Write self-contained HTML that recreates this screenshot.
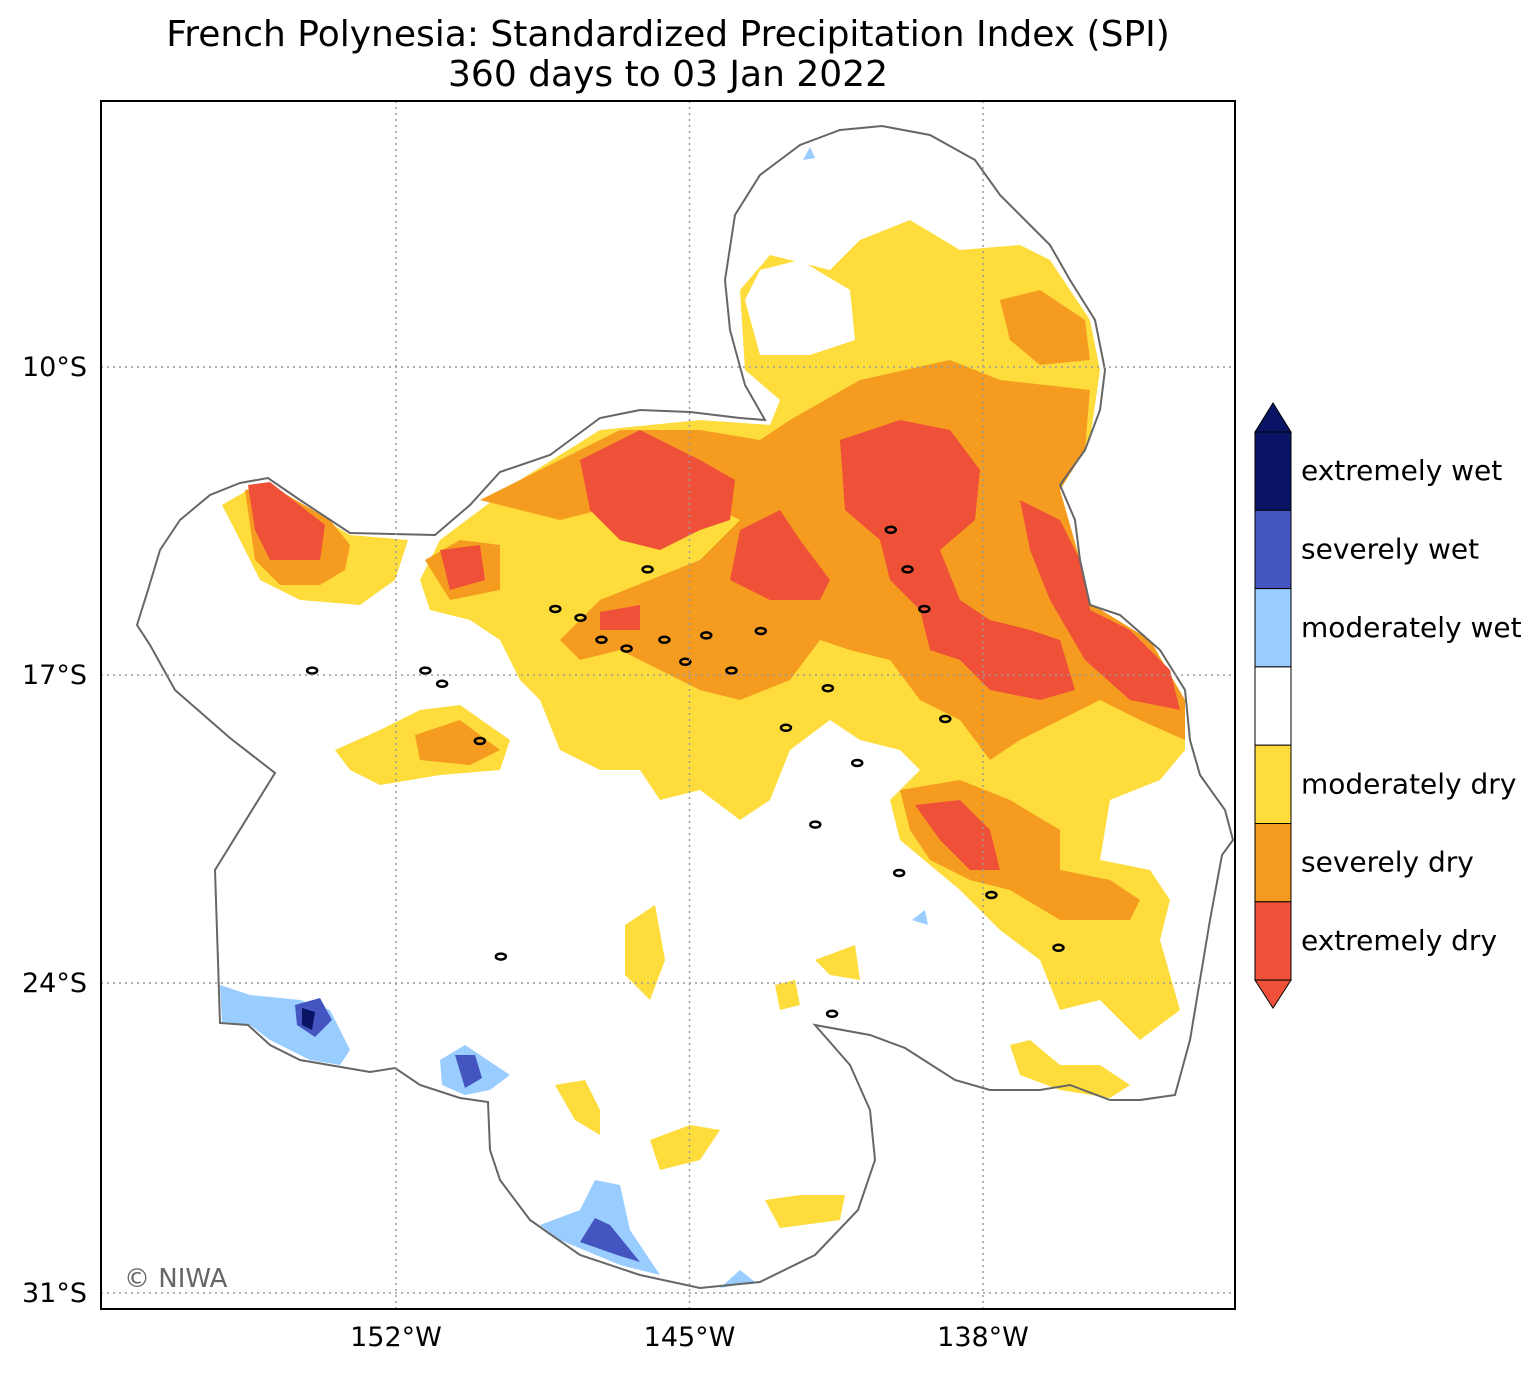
<!DOCTYPE html>
<html><head><meta charset="utf-8"><style>
body{margin:0;background:#fff;font-family:"Liberation Sans","DejaVu Sans",sans-serif;}
svg text{font-family:"DejaVu Sans","Liberation Sans",sans-serif;}
</style></head><body>
<svg id="chart" width="1540" height="1372" viewBox="0 0 1540 1372">
<text x="668" y="46" font-size="36" text-anchor="middle">French Polynesia: Standardized Precipitation Index (SPI)</text>
<text x="668" y="86" font-size="36" text-anchor="middle">360 days to 03 Jan 2022</text>
<defs><clipPath id="frame"><rect x="101" y="101" width="1134" height="1208"/></clipPath></defs>
<g clip-path="url(#frame)">
<g>
<polygon fill="#fddc3c" points="420,580 440,540 520,480 600,430 700,420 770,425 780,400 745,370 740,290 770,255 830,270 860,240 910,220 960,250 1020,245 1050,260 1090,320 1100,370 1090,440 1060,490 1080,560 1090,610 1150,640 1185,700 1185,750 1160,780 1110,800 1100,860 1150,870 1170,900 1160,940 1180,1010 1140,1040 1100,1000 1060,1010 1040,960 1000,930 960,890 900,840 890,800 920,770 900,750 860,740 830,720 790,750 770,800 740,820 700,790 660,800 640,770 600,770 560,750 540,700 520,680 500,640 470,620 430,610"/>
<polygon fill="#fff" points="745,300 760,270 800,260 850,290 855,340 810,355 760,355"/>
<polygon fill="#fddc3c" points="222,505 260,483 300,505 350,535 408,540 395,580 360,605 300,600 260,580 240,540"/>
<polygon fill="#fddc3c" points="335,750 380,730 420,710 460,705 510,740 500,770 440,775 380,785 350,770"/>
<polygon fill="#fddc3c" points="625,925 655,905 665,960 650,1000 625,975"/>
<polygon fill="#fddc3c" points="555,1085 585,1080 600,1110 600,1135 575,1120"/>
<polygon fill="#fddc3c" points="650,1140 690,1125 720,1130 700,1160 660,1170"/>
<polygon fill="#fddc3c" points="765,1200 800,1195 845,1195 840,1220 780,1228"/>
<polygon fill="#fddc3c" points="1010,1045 1030,1040 1060,1065 1100,1065 1130,1085 1110,1098 1060,1090 1020,1075"/>
<polygon fill="#fddc3c" points="775,985 795,980 800,1005 780,1010"/>
<polygon fill="#fddc3c" points="815,960 855,945 860,980 830,975"/>
<polygon fill="#f59c20" points="480,500 560,460 620,430 700,430 760,440 790,420 860,380 950,360 1000,380 1090,390 1085,450 1060,490 1080,560 1085,600 1150,640 1185,700 1185,740 1140,720 1100,700 1060,720 1020,740 990,760 960,720 920,700 890,660 850,650 820,640 790,680 740,700 700,690 660,670 620,650 580,660 560,640 600,600 650,580 700,560 740,520 700,500 650,500 600,510 560,520 520,510"/>
<polygon fill="#f59c20" points="1000,300 1040,290 1085,320 1090,360 1040,365 1010,340"/>
<polygon fill="#f59c20" points="900,790 960,780 1010,800 1060,830 1060,870 1110,880 1140,900 1130,920 1060,920 1010,890 970,880 930,860 910,830"/>
<polygon fill="#f59c20" points="245,490 270,485 330,520 350,545 345,570 320,585 280,585 255,560"/>
<polygon fill="#f59c20" points="415,735 460,720 500,750 470,765 420,760"/>
<polygon fill="#f59c20" points="425,560 460,540 500,545 500,590 450,600"/>
<polygon fill="#ef5038" points="840,440 900,420 950,430 980,470 975,520 940,550 960,600 990,620 1030,630 1060,640 1075,690 1040,700 990,690 960,660 930,650 920,610 890,580 880,540 845,510"/>
<polygon fill="#ef5038" points="580,460 640,430 700,460 735,480 730,520 700,530 660,550 620,540 590,510"/>
<polygon fill="#ef5038" points="740,530 780,510 800,540 830,580 820,600 770,600 730,580"/>
<polygon fill="#ef5038" points="1020,500 1060,520 1080,560 1090,610 1130,630 1170,670 1180,710 1130,700 1085,660 1050,600 1030,550"/>
<polygon fill="#ef5038" points="248,485 270,482 325,525 320,560 270,560 255,530"/>
<polygon fill="#ef5038" points="440,550 480,545 485,580 450,590"/>
<polygon fill="#ef5038" points="600,612 640,605 640,630 600,630"/>
<polygon fill="#ef5038" points="915,805 960,800 990,830 1000,870 970,870 940,840"/>
<polygon fill="#99ccff" points="220,985 250,995 300,1000 330,1010 350,1050 340,1065 310,1060 270,1040 250,1025 222,1022"/>
<polygon fill="#4455c0" points="295,1005 320,998 332,1020 315,1037 297,1025"/>
<polygon fill="#0a1464" points="302,1008 315,1012 312,1030 302,1025"/>
<polygon fill="#99ccff" points="440,1060 465,1045 510,1075 490,1090 465,1095 442,1085"/>
<polygon fill="#4455c0" points="455,1055 475,1055 482,1078 465,1088"/>
<polygon fill="#99ccff" points="540,1225 580,1210 595,1180 620,1185 630,1230 660,1275 620,1265 560,1240"/>
<polygon fill="#4455c0" points="580,1242 595,1218 610,1225 640,1262 620,1256"/>
<polygon fill="#99ccff" points="720,1288 740,1270 755,1282"/>
<polygon fill="#99ccff" points="803,160 810,147 815,158"/>
<polygon fill="#99ccff" points="912,920 925,910 928,925"/>
</g>
<polygon fill="none" stroke="#666" stroke-width="2" points="137,625 148,590 160,550 180,520 210,495 240,483 268,478 300,500 350,533 435,535 470,505 500,472 550,455 600,418 640,410 690,412 740,418 765,420 745,385 730,330 725,280 735,215 760,175 800,145 840,130 882,126 930,135 975,160 1000,195 1030,225 1050,245 1070,280 1095,320 1105,370 1100,410 1085,450 1060,485 1075,520 1080,560 1090,605 1120,615 1160,650 1185,690 1190,740 1200,775 1225,810 1233,840 1222,855 1210,920 1200,980 1190,1040 1175,1095 1140,1100 1110,1100 1070,1085 1040,1090 990,1090 955,1080 905,1048 870,1035 815,1025 850,1065 870,1110 875,1160 858,1210 815,1255 760,1282 700,1288 640,1275 580,1255 530,1220 500,1180 490,1150 488,1102 460,1098 420,1085 395,1068 370,1072 300,1060 270,1045 248,1025 220,1023 215,870 275,773 230,738 175,690 150,645"/>
<g id="islands" fill="none" stroke="#000" stroke-width="2.5"></g>
<g id="grid" stroke="#999" stroke-width="1.5" stroke-dasharray="2,4"></g>
</g>
<rect x="101" y="101" width="1134" height="1208" fill="none" stroke="#000" stroke-width="2"/>
<text x="124" y="1287" font-size="26" fill="#666">© NIWA</text>
<g id="ticks" font-size="27"></g>
<g id="cbar"></g>
</svg>
<script>
const lonTicks=[-152,-145,-138];
const latTicks=[-10,-17,-24,-31];
const cbarLabels=["extremely wet","severely wet","moderately wet","","moderately dry","severely dry","extremely dry"];
const cbarColors=["#0a1464","#4455c0","#99ccff","#ffffff","#fddc3c","#f59c20","#ef5038"];
const islandLon=[-148.2,-147.6,-147.1,-146.5,-146.0,-145.6,-145.1,-144.6,-144.0,-143.3,-142.7,-141.7,-140.2,-139.8,-139.4,-138.9,-141.0,-142.0,-150.0,-151.3,-149.5,-140.0,-141.6,-137.8,-136.2,-154.0,-150.9];
const islandLat=[-15.5,-15.7,-16.2,-16.4,-14.6,-16.2,-16.7,-16.1,-16.9,-16.0,-18.2,-17.3,-13.7,-14.6,-15.5,-18.0,-19.0,-20.4,-18.5,-16.9,-23.4,-21.5,-24.7,-22.0,-23.2,-16.9,-17.2];
const ns="http://www.w3.org/2000/svg";
function xs(lon){return 396+(lon+152)*41.93;}
function ys(lat){return 367+(-10-lat)*44.0;}
const grid=document.getElementById('grid'),ticks=document.getElementById('ticks');
lonTicks.forEach(l=>{
 const ln=document.createElementNS(ns,'line');
 
 
 ln.setAttribute('x1',xs(l));ln.setAttribute('x2',xs(l));ln.setAttribute('y1',101);ln.setAttribute('y2',1309);grid.appendChild(ln);
 const t=document.createElementNS(ns,'text');
 
 
 t.setAttribute('x',xs(l));t.setAttribute('y',1346);t.setAttribute('text-anchor','middle');t.textContent=Math.abs(l)+'°W';ticks.appendChild(t);
});
latTicks.forEach(l=>{
 const ln=document.createElementNS(ns,'line');
 
 
 const y=l===-31?1293:ys(l);
 ln.setAttribute('x1',101);ln.setAttribute('x2',1235);ln.setAttribute('y1',y);ln.setAttribute('y2',y);grid.appendChild(ln);
 const t=document.createElementNS(ns,'text');
 
 
 t.setAttribute('x',87);t.setAttribute('y',y+9);t.setAttribute('text-anchor','end');t.textContent=Math.abs(l)+'°S';ticks.appendChild(t);
});
const isl=document.getElementById('islands');
islandLon.forEach((lo,i)=>{
 const e=document.createElementNS(ns,'ellipse');
 
 
 e.setAttribute('cx',xs(lo));e.setAttribute('cy',ys(islandLat[i]));e.setAttribute('rx',5);e.setAttribute('ry',3);isl.appendChild(e);
});
const cb=document.getElementById('cbar');
const cbTop=432,segH=78.3,x0=1255,w=36;
const tri1=document.createElementNS(ns,'polygon');


tri1.setAttribute('points',`${x0},${cbTop} ${x0+w/2},${cbTop-29} ${x0+w},${cbTop}`);tri1.setAttribute('fill','#0a1464');tri1.setAttribute('stroke','#000');cb.appendChild(tri1);
cbarColors.forEach((c,i)=>{
 const r=document.createElementNS(ns,'rect');
 
 
 r.setAttribute('x',x0);r.setAttribute('y',cbTop+i*segH);r.setAttribute('width',w);r.setAttribute('height',segH);r.setAttribute('fill',c);r.setAttribute('stroke','#000');cb.appendChild(r);
 if(cbarLabels[i]){
 const t=document.createElementNS(ns,'text');
 
 
 t.setAttribute('x',1301);t.setAttribute('y',cbTop+i*segH+segH/2+9);t.setAttribute('font-size','28');t.textContent=cbarLabels[i];cb.appendChild(t);}
});
const bot=cbTop+7*segH;
const tri2=document.createElementNS(ns,'polygon');


tri2.setAttribute('points',`${x0},${bot} ${x0+w/2},${bot+28} ${x0+w},${bot}`);tri2.setAttribute('fill','#ef5038');tri2.setAttribute('stroke','#000');cb.appendChild(tri2);
</script>
</body></html>
